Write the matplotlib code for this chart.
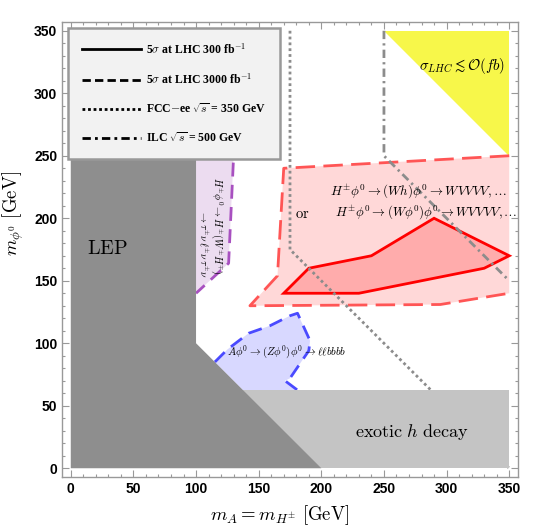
import matplotlib.pyplot as plt
from matplotlib.lines import Line2D

plt.rcParams['mathtext.fontset'] = 'cm'

# regions (mA, m_phi0) in GeV
lep_x = [0, 0, 100, 100, 200]
lep_y = [0, 300, 300, 100, 0]
exotic_x = [0, 350, 350, 0]
exotic_y = [0, 0, 62.5, 62.5]
yellow_x = [250, 350, 350]
yellow_y = [350, 350, 250]

# FCC-ee and ILC kinematic reach
fcc_x = [175, 175, 350]
fcc_y = [350, 175, 0]
ilc_x = [250, 250, 350]
ilc_y = [350, 250, 150]

# 5 sigma at LHC 300 fb^-1
lhc300_x = [170, 190, 240, 290, 350, 330, 230, 170]
lhc300_y = [140, 160, 170, 200, 170, 160, 140, 140]
# 5 sigma at LHC 3000 fb^-1 (open edge, right side is the plot boundary)
lhc3000_x = [350, 170, 165, 143, 295, 350]
lhc3000_y = [250, 240, 154, 130, 131, 140]
# H+- phi0 -> tau nu l nu region
purple_x = [100, 130, 126, 100]
purple_y = [250, 250, 164, 140]
# A phi0 -> ll bbbb region
blue_x = [115, 125, 142, 159, 175, 181, 191, 190, 175, 171, 181]
blue_y = [85, 95, 108, 114, 122, 124, 102, 94, 72, 70, 62.5]

fig = plt.figure(figsize=(5.42, 5.32), dpi=100)
ax = fig.add_axes([0.1144, 0.1034, 0.8413, 0.8552])

ax.fill(lhc3000_x, lhc3000_y, color='#ffd8d8', lw=0, zorder=1)
ax.plot(lhc3000_x, lhc3000_y, color='#ff5555', lw=2, ls=(0, (7, 3)), zorder=2)
ax.fill(purple_x + [100], purple_y + [140], color='#ecdcf0', lw=0, zorder=1)
ax.plot(purple_x, purple_y, color='#a850c0', lw=2, ls=(0, (5, 3)), zorder=2)
ax.fill(blue_x + [137.5], blue_y + [62.5], color='#d8d8ff', lw=0, zorder=1)
ax.plot(blue_x, blue_y, color='#4a4aff', lw=2, ls=(0, (5, 3)), zorder=2)
ax.fill(yellow_x, yellow_y, color='#f7f74a', lw=0, zorder=1)

ax.fill(lhc300_x, lhc300_y, facecolor='#ffacac', edgecolor='#ff0000', lw=2, zorder=3)

ax.plot(fcc_x, fcc_y, color='#8c8c8c', lw=2, ls=(0, (1, 1.1)), zorder=4)
ax.plot(ilc_x, ilc_y, color='#8c8c8c', lw=2, ls=(0, (3, 1.5, 0.8, 1.5)), zorder=4)

ax.fill(exotic_x, exotic_y, color='#c4c4c4', lw=0, zorder=5)
ax.fill(lep_x, lep_y, color='#8e8e8e', lw=0, zorder=6)

# labels
ax.text(29, 176, r'$\mathrm{LEP}$', fontsize=14.5, ha='center', va='center', zorder=7)
ax.text(272, 29, r'$\mathrm{exotic}\ h\ \mathrm{decay}$', fontsize=13,
        ha='center', va='center', zorder=7)
ax.text(312, 322, r'$\sigma_{LHC}\lesssim\mathcal{O}(fb)$', fontsize=10.8,
        ha='center', va='center', zorder=7)
ax.text(207, 221, r'$H^{\pm}\phi^0\rightarrow(Wh)\phi^0\rightarrow WVVVV,\ldots$',
        fontsize=9.4, ha='left', va='center', zorder=7)
ax.text(185, 204, r'$\mathrm{or}$', fontsize=10.5, ha='center', va='center', zorder=7)
ax.text(211, 204, r'$H^{\pm}\phi^0\rightarrow(W\phi^0)\phi^0\rightarrow WVVVV,\ldots$',
        fontsize=9.3, ha='left', va='center', zorder=7)
ax.text(125, 93, r'$A\phi^0\rightarrow(Z\phi^0)\phi^0\rightarrow\ell\ell bbbb$',
        fontsize=7.8, ha='left', va='center', zorder=7)
ax.text(117, 194, r'$H^{\pm}\phi^0\rightarrow H^{\pm}(W^{\pm}H^{\mp})$',
        fontsize=7.2, rotation=-90, ha='center', va='center', zorder=7)
ax.text(105, 180, r'$\rightarrow\tau^{\pm}\nu\,\ell^{\pm}\nu\,\tau^{\pm}\nu$',
        fontsize=7.2, rotation=-90, ha='center', va='center', zorder=7)

ax.set_xlim(-7, 357)
ax.set_ylim(-7, 357)
ax.set_xticks(range(0, 351, 50))
ax.set_yticks(range(0, 351, 50))
ax.set_xticks(range(0, 351, 10), minor=True)
ax.set_yticks(range(0, 351, 10), minor=True)
ax.tick_params(which='both', direction='in', top=True, right=True,
               color='#999999', width=0.8)
ax.tick_params(which='major', length=5, labelsize=10)
ax.tick_params(which='minor', length=2.5)
for lab in ax.get_xticklabels() + ax.get_yticklabels():
    lab.set_fontfamily('Liberation Sans')
    lab.set_fontweight('bold')
for sp in ax.spines.values():
    sp.set_color('#999999')
    sp.set_linewidth(1)

ax.set_xlabel(r'$m_A = m_{H^{\pm}}\ [\mathrm{GeV}]$', fontsize=13.5)
ax.set_ylabel(r'$m_{\phi^0}\ [\mathrm{GeV}]$', fontsize=13.5)
ax.xaxis.set_label_coords(0.478, -0.058)
ax.yaxis.set_label_coords(-0.08, 0.58)

handles = [
    Line2D([], [], color='black', lw=2, ls='-'),
    Line2D([], [], color='black', lw=2, ls=(0, (3, 1.5))),
    Line2D([], [], color='black', lw=2, ls=(0, (1, 1))),
    Line2D([], [], color='black', lw=2, ls=(0, (3, 1.5, 1, 1.5))),
]
labels = [
    r'5$\sigma$ at LHC 300 fb$^{-1}$',
    r'5$\sigma$ at LHC 3000 fb$^{-1}$',
    r'FCC$-$ee $\sqrt{s}$ = 350 GeV',
    r'ILC $\sqrt{s}$ = 500 GeV',
]
leg = ax.legend(handles, labels, loc='upper left', bbox_to_anchor=(0.013, 0.987),
                borderaxespad=0, prop=dict(family='Liberation Serif', weight='bold', size=8.5),
                handlelength=5.0, handletextpad=0.5, labelspacing=1.3, borderpad=1.15,
                fancybox=False, framealpha=1, facecolor='#f2f2f2', edgecolor='#999999')
leg.get_frame().set_linewidth(1.8)
leg.set_zorder(10)

fig.savefig('out.png', dpi=100)
